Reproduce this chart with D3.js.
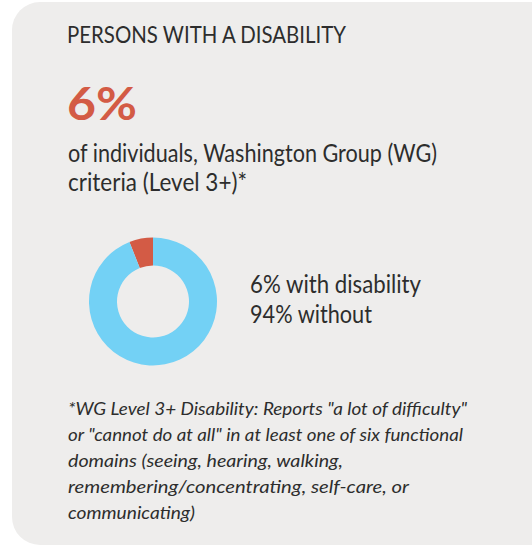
<!DOCTYPE html>
<html>
<head>
<meta charset="utf-8">
<script src="https://cdn.jsdelivr.net/npm/d3@7"></script>
<style>
  html, body { margin: 0; padding: 0; background: #ffffff; }
  svg { display: block; }
  text { font-family: Lato, "Open Sans", sans-serif; fill: #2d2d2d; }
</style>
</head>
<body>
<svg id="card" width="532" height="546"></svg>
<script>
// Share of individuals meeting the WG Level 3+ disability criteria
const categories = ["with disability", "without"];
const values = [6, 94];
const colors = ["#d35b45", "#73d1f5"];

const headline = "6%";
const title = "PERSONS WITH A DISABILITY";
const subtitleLines = ["of individuals, Washington Group (WG)", "criteria (Level 3+)*"];
const legendLines = ["6% with disability", "94% without"];
const footnoteLines = [
  "*WG Level 3+ Disability: Reports \"a lot of difficulty\"",
  "or \"cannot do at all\" in at least one of six functional",
  "domains (seeing, hearing, walking,",
  "remembering/concentrating, self-care, or",
  "communicating)"
];

const svg = d3.select("#card");

// Card background
svg.append("rect")
  .attr("x", 12).attr("y", 2)
  .attr("width", 548).attr("height", 543)
  .attr("rx", 28).attr("ry", 28)
  .attr("fill", "#eeedec");

// Title
svg.append("text")
  .attr("x", 67).attr("y", 43)
  .attr("font-size", 23)
  .attr("textLength", 279).attr("lengthAdjust", "spacingAndGlyphs")
  .text(title);

// Headline figure
svg.append("text")
  .attr("x", 67).attr("y", 120)
  .attr("font-size", 45).attr("font-weight", 700)
  .attr("textLength", 70).attr("lengthAdjust", "spacingAndGlyphs")
  .style("fill", colors[0])
  .text(headline);

// Subtitle
const subWidths = [369, 179];
svg.selectAll("text.sub").data(subtitleLines).join("text")
  .attr("class", "sub")
  .attr("x", 68).attr("y", (d, i) => 162 + i * 29)
  .attr("font-size", 24.5)
  .attr("textLength", (d, i) => subWidths[i]).attr("lengthAdjust", "spacingAndGlyphs")
  .text(d => d);

// Donut: the disability share sits just counter-clockwise of 12 o'clock
const slices = categories.map((c, i) => ({ category: c, value: values[i], color: colors[i] }));
const share = values[0] / d3.sum(values);
const pie = d3.pie()
  .sort(null)
  .value(d => d.value)
  .startAngle(-share * 2 * Math.PI)
  .endAngle(2 * Math.PI - share * 2 * Math.PI);
const arc = d3.arc().innerRadius(36).outerRadius(64);

svg.append("g")
  .attr("transform", "translate(153,301.5)")
  .selectAll("path")
  .data(pie(slices))
  .join("path")
  .attr("d", arc)
  .attr("fill", d => d.data.color);

// Legend text
const legWidths = [171, 122];
svg.selectAll("text.leg").data(legendLines).join("text")
  .attr("class", "leg")
  .attr("x", 250).attr("y", (d, i) => 293 + i * 30)
  .attr("font-size", 24.5)
  .attr("textLength", (d, i) => legWidths[i]).attr("lengthAdjust", "spacingAndGlyphs")
  .text(d => d);

// Footnote
const footWidths = [399, 395, 275, 341, 127];
svg.selectAll("text.foot").data(footnoteLines).join("text")
  .attr("class", "foot")
  .attr("x", 68).attr("y", (d, i) => 415 + i * 26)
  .attr("font-size", 18).attr("font-style", "italic")
  .attr("textLength", (d, i) => footWidths[i]).attr("lengthAdjust", "spacingAndGlyphs")
  .text(d => d);
</script>
</body>
</html>
